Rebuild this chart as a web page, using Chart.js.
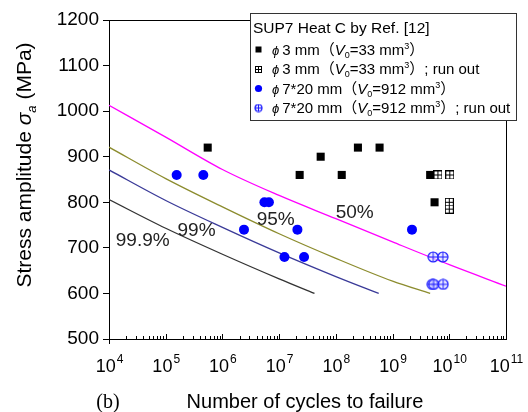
<!DOCTYPE html>
<html><head><meta charset="utf-8">
<script src="https://cdn.jsdelivr.net/npm/chart.js@4.4.0/dist/chart.umd.min.js"></script>
<style>html,body{margin:0;padding:0;background:#fff;}canvas{display:block;}</style>
</head><body>
<canvas id="c" width="528" height="412" style="width:528px;height:412px"></canvas>
<script>
// ---------- data ----------
const solidN = [5.5e5, 2.3e7, 5.4e7, 1.27e8, 2.45e8, 5.9e8, 4.6e9, 5.5e9];
const solidS = [920, 860, 900, 860, 920, 920, 860, 800];
const runN = [6.3e9, 1.02e10, 1.0e10, 1.0e10];
const runS = [860, 860, 800, 785];
const bigN = [1.56e5, 4.6e5, 2.4e6, 5.5e6, 6.6e6, 1.24e7, 2.1e7, 2.75e7, 2.2e9];
const bigS = [860, 860, 740, 800, 800, 680, 740, 680, 740];
const bigRunN = [5.2e9, 7.7e9, 5.0e9, 5.3e9, 7.8e9];
const bigRunS = [680, 680, 620, 620, 620];

const p50N = [1e4, 1e5, 1e6, 1e7, 1e8, 1e9, 1e10, 1e11];
const p50S = [1013, 943, 872, 815, 764, 713, 663, 616];
const p95N = [1e4, 1e5, 1e6, 1e7, 1e8, 1e9, 4.6e9];
const p95S = [921, 852, 790, 731, 677, 627, 600];
const p99N = [1e4, 1e5, 1e6, 1e7, 1e8, 5.7e8];
const p99S = [871, 804, 745, 689, 637, 600];
const p999N = [1e4, 1e5, 1e6, 1e7, 4.2e7];
const p999S = [806, 743, 686, 632, 600];

const curveLabels = ['99.9%', '99%', '95%', '50%'];
const curveLabelN = [3.93e4, 3.5e5, 8.7e6, 2.15e8];
const curveLabelS = [716, 738, 761, 776];

const xTickExps = [4, 5, 6, 7, 8, 9, 10, 11];
const xMinorSig = [2, 3, 4, 5, 6, 7, 8, 9];
const yMin = 500, yMax = 1200, yStep = 100;

const legendTitle = 'SUP7 Heat C by Ref. [12]';
const legendRows = [
  [['3 mm（',''],['V','i'],['0','sub'],['=33 mm',''],['3','sup'],['）','']],
  [['3 mm（',''],['V','i'],['0','sub'],['=33 mm',''],['3','sup'],['）; run out','']],
  [['7*20 mm（',''],['V','i'],['0','sub'],['=912 mm',''],['3','sup'],['）','']],
  [['7*20 mm（',''],['V','i'],['0','sub'],['=912 mm',''],['3','sup'],['）; run out','']]
];

// ---------- helpers ----------
const FAM = '"Liberation Sans", Arial, "Noto Sans CJK SC", sans-serif';
const pts = (xs, ys) => xs.map((v, i) => ({x: v, y: ys[i]}));

function makeRunSquare(s) {
  const c = document.createElement('canvas'); c.width = s + 1; c.height = s + 1;
  const g = c.getContext('2d');
  g.fillStyle = '#fff'; g.fillRect(0.5, 0.5, s, s);
  g.strokeStyle = '#000'; g.lineWidth = 1; g.strokeRect(0.5, 0.5, s, s);
  const m = Math.floor(s / 2) + 0.5;
  g.beginPath(); g.moveTo(m, 0.5); g.lineTo(m, s + 0.5); g.moveTo(0.5, m); g.lineTo(s + 0.5, m); g.stroke();
  return c;
}
function makeRunCircle(r) {
  const s = Math.ceil(2 * r + 2);
  const c = document.createElement('canvas'); c.width = s; c.height = s;
  const g = c.getContext('2d'); const m = s / 2;
  g.beginPath(); g.arc(m, m, r, 0, Math.PI * 2);
  g.fillStyle = 'rgba(225,225,255,0.7)'; g.fill();
  g.strokeStyle = '#1a1aff'; g.lineWidth = 1.2; g.stroke();
  g.beginPath(); g.moveTo(m, m - r); g.lineTo(m, m + r); g.moveTo(m - r, m); g.lineTo(m + r, m);
  g.lineWidth = 1; g.stroke();
  return c;
}
const runSq = makeRunSquare(8), runCi = makeRunCircle(5);
const runSqL = makeRunSquare(6), runCiL = makeRunCircle(3.5);

function segFont(style, size) {
  const it = style === 'i' ? 'italic ' : '';
  const sm = (style === 'sub' || style === 'sup');
  return `${it}${sm ? Math.round(size * 0.62) : size}px ${FAM}`;
}
function drawRich(ctx, segs, x, y, size) {
  let cx = x;
  for (const [t, st] of segs) {
    ctx.font = segFont(st, size);
    let dy = 0;
    if (st === 'sub') dy = size * 0.22;
    if (st === 'sup') dy = -size * 0.38;
    ctx.fillText(t, cx, y + dy);
    cx += ctx.measureText(t).width;
  }
  return cx;
}

// ---------- decoration plugin ----------
const deco = {
  id: 'deco',
  afterDraw(chart) {
    const {ctx, chartArea: a, scales: {x, y}} = chart;
    ctx.save();
    ctx.strokeStyle = '#000'; ctx.lineWidth = 1;
    ctx.beginPath();
    ctx.moveTo(a.left - 6, Math.round(a.top) + 0.5); ctx.lineTo(a.right + 1, Math.round(a.top) + 0.5);
    ctx.moveTo(Math.round(a.right) + 0.5, a.top); ctx.lineTo(Math.round(a.right) + 0.5, a.bottom);
    ctx.moveTo(Math.round(a.left) + 0.5, a.bottom); ctx.lineTo(Math.round(a.left) + 0.5, a.bottom + 5);
    for (const e of xTickExps) {
      const px = Math.round(x.getPixelForValue(Math.pow(10, e))) + 0.5;
      ctx.moveTo(px, a.bottom); ctx.lineTo(px, a.bottom - 5);
      if (e < xTickExps[xTickExps.length - 1]) {
        for (const s of xMinorSig) {
          const mx = Math.round(x.getPixelForValue(s * Math.pow(10, e))) + 0.5;
          ctx.moveTo(mx, a.bottom); ctx.lineTo(mx, a.bottom - 3);
        }
      }
    }
    ctx.stroke();

    // x tick labels 10^n
    ctx.fillStyle = '#000'; ctx.textBaseline = 'alphabetic'; ctx.textAlign = 'left';
    for (const e of xTickExps) {
      const px = x.getPixelForValue(Math.pow(10, e));
      ctx.font = `18px ${FAM}`; const w1 = ctx.measureText('10').width;
      ctx.font = `12px ${FAM}`; const w2 = ctx.measureText(String(e)).width;
      const sx = px - (w1 + w2) / 2;
      ctx.font = `18px ${FAM}`; ctx.fillText('10', sx, 372);
      ctx.font = `12px ${FAM}`; ctx.fillText(String(e), sx + w1 + 1, 363);
    }

    // axis titles
    ctx.font = `20px ${FAM}`; ctx.textAlign = 'center';
    ctx.fillText('Number of cycles to failure', 305, 408);
    ctx.font = `20px "Liberation Serif", "Times New Roman", serif`;
    ctx.fillText('(b)', 108, 408);

    ctx.save();
    ctx.translate(31, 165); ctx.rotate(-Math.PI / 2); ctx.textAlign = 'left';
    const ysegs = [['Stress amplitude ', ''], ['σ', 'i'], ['a', 'isub'], [' (MPa)', '']];
    const ysz = 21;
    let w = 0;
    const fontFor = (st) => st === 'i' ? `italic ${ysz}px ${FAM}` : st === 'isub' ? `italic ${Math.round(ysz*0.62)}px ${FAM}` : `${ysz}px ${FAM}`;
    for (const [t, st] of ysegs) { ctx.font = fontFor(st); w += ctx.measureText(t).width; }
    let cx = -w / 2;
    for (const [t, st] of ysegs) {
      ctx.font = fontFor(st);
      ctx.fillText(t, cx, st === 'isub' ? 5 : 0);
      cx += ctx.measureText(t).width;
    }
    ctx.restore();

    // curve labels
    ctx.font = `19px ${FAM}`; ctx.fillStyle = '#222'; ctx.textAlign = 'center'; ctx.textBaseline = 'middle';
    curveLabels.forEach((t, i) => {
      ctx.fillText(t, x.getPixelForValue(curveLabelN[i]), y.getPixelForValue(curveLabelS[i]));
    });

    // legend
    const L = 250.5, T = 13.5, R = 516.5, B = 120.5;
    ctx.fillStyle = '#fff'; ctx.fillRect(L, T, R - L, B - T);
    ctx.strokeStyle = '#333'; ctx.lineWidth = 1; ctx.strokeRect(L, T, R - L, B - T);
    ctx.fillStyle = '#000'; ctx.textAlign = 'left'; ctx.textBaseline = 'alphabetic';
    ctx.font = `15.5px ${FAM}`; ctx.fillText(legendTitle, 253, 33);
    const rowY = [49.5, 69, 88.5, 108];
    rowY.forEach((ry, i) => {
      const sx = 258.5;
      if (i === 0) { ctx.fillStyle = '#000'; ctx.fillRect(sx - 3, ry - 3, 6, 6); }
      if (i === 1) { ctx.drawImage(runSqL, Math.round(sx - 3.5), Math.round(ry - 3.5)); }
      if (i === 2) { ctx.fillStyle = '#0000ff'; ctx.beginPath(); ctx.arc(sx, ry, 3.6, 0, Math.PI*2); ctx.fill(); }
      if (i === 3) { ctx.drawImage(runCiL, sx - runCiL.width / 2, ry - runCiL.height / 2); }
      ctx.fillStyle = '#000';
      ctx.font = `italic 13px ${FAM}`; ctx.fillText('ϕ', 272, ry + 5);
      const px = 272 + ctx.measureText('ϕ').width + 3;
      drawRich(ctx, legendRows[i], px, ry + 5, 15);
    });
    ctx.restore();
  }
};

const lineDs = (label, xs, ys, color, w) => ({
  type: 'line', label, data: pts(xs, ys), borderColor: color, borderWidth: w,
  pointRadius: 0, fill: false, cubicInterpolationMode: 'monotone', order: 2
});

new Chart(document.getElementById('c'), {
  type: 'scatter',
  data: {
    datasets: [
      lineDs('50%', p50N, p50S, '#ff00ff', 1.3),
      lineDs('95%', p95N, p95S, '#8c8c2e', 1.3),
      lineDs('99%', p99N, p99S, '#3a3a98', 1.3),
      lineDs('99.9%', p999N, p999S, '#333333', 1.3),
      {label: 'solid', data: pts(solidN, solidS), pointStyle: 'rect', pointRadius: 5.7,
       backgroundColor: '#000', borderColor: '#000', borderWidth: 0, order: 1},
      {label: 'run', data: pts(runN, runS), pointStyle: runSq, order: 1},
      {label: 'big', data: pts(bigN, bigS), pointStyle: 'circle', pointRadius: 5,
       backgroundColor: '#0000ff', borderColor: '#0000ff', borderWidth: 0, order: 1},
      {label: 'bigrun', data: pts(bigRunN, bigRunS), pointStyle: runCi, order: 1}
    ]
  },
  options: {
    responsive: false, animation: false, devicePixelRatio: 1,
    layout: {padding: {top: 20, right: 22, left: 0, bottom: 0}},
    plugins: {legend: {display: false}, tooltip: {enabled: false}},
    scales: {
      x: {
        type: 'logarithmic', min: 1e4, max: 1e11, position: 'bottom',
        ticks: {display: false}, grid: {display: false},
        border: {display: true, color: '#000', width: 1},
        afterFit: s => { s.height = 73; }
      },
      y: {
        type: 'linear', min: yMin, max: yMax,
        ticks: {stepSize: yStep, color: '#000', padding: 4, font: {family: FAM, size: 19},
                callback: v => String(v)},
        grid: {display: true, drawOnChartArea: false, drawTicks: true, tickLength: 6, color: '#000'},
        border: {display: true, color: '#000', width: 1},
        afterFit: s => { s.width = 109; }
      }
    }
  },
  plugins: [deco]
});
</script>
</body></html>
